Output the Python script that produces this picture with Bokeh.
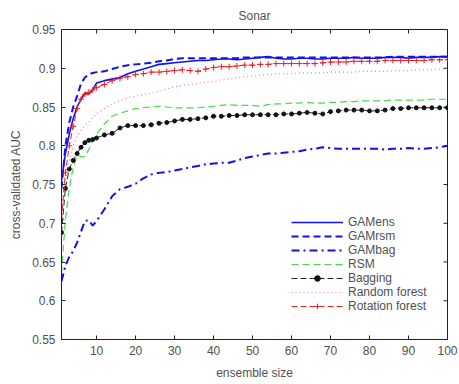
import math
from bokeh.plotting import figure
from bokeh.embed import file_html
from bokeh.resources import INLINE
from bokeh.models import FixedTicker, CustomJSTickFormatter, Legend

# ---------------- data ----------------
ensemble_size = list(range(1, 11)) + list(range(12, 101, 2))

gamens = [0.755, 0.790, 0.815, 0.835, 0.850, 0.860, 0.868, 0.867, 0.872, 0.881,
          0.884, 0.886, 0.888, 0.893, 0.896,
          0.899, 0.902, 0.905, 0.906, 0.907,
          0.908, 0.909, 0.910, 0.910, 0.911,
          0.912, 0.912, 0.911, 0.912, 0.913,
          0.914, 0.915, 0.913, 0.912, 0.912,
          0.913, 0.913, 0.912, 0.912, 0.913,
          0.913, 0.913, 0.914, 0.913, 0.913,
          0.913, 0.914, 0.914, 0.914, 0.913,
          0.914, 0.914, 0.914, 0.915, 0.915]

gamrsm = [0.745, 0.800, 0.830, 0.850, 0.864, 0.880, 0.888, 0.892, 0.894, 0.895,
          0.896, 0.899, 0.902, 0.904, 0.905,
          0.906, 0.907, 0.909, 0.910, 0.912,
          0.913, 0.913, 0.913, 0.913, 0.913,
          0.913, 0.913, 0.913, 0.914, 0.914,
          0.914, 0.914, 0.914, 0.914, 0.914,
          0.914, 0.914, 0.914, 0.914, 0.914,
          0.914, 0.914, 0.914, 0.914, 0.914,
          0.914, 0.914, 0.915, 0.915, 0.915,
          0.915, 0.915, 0.915, 0.915, 0.915]

gambag = [0.625, 0.645, 0.657, 0.664, 0.675, 0.689, 0.703, 0.704, 0.697, 0.703,
          0.718, 0.735, 0.744, 0.747, 0.751,
          0.758, 0.763, 0.765, 0.766, 0.768,
          0.770, 0.772, 0.774, 0.776, 0.777,
          0.778, 0.778, 0.781, 0.784, 0.786,
          0.788, 0.790, 0.790, 0.791, 0.792,
          0.793, 0.795, 0.796, 0.798, 0.797,
          0.796, 0.796, 0.796, 0.796, 0.796,
          0.796, 0.795, 0.796, 0.796, 0.797,
          0.796, 0.796, 0.797, 0.798, 0.800]

rsm = [0.635, 0.705, 0.745, 0.772, 0.788, 0.786, 0.786, 0.795, 0.806, 0.815,
       0.828, 0.838, 0.842, 0.845, 0.848,
       0.849, 0.850, 0.851, 0.850, 0.849,
       0.849, 0.849, 0.849, 0.850, 0.851,
       0.852, 0.853, 0.852, 0.852, 0.852,
       0.851, 0.853, 0.854, 0.854, 0.855,
       0.855, 0.856, 0.855, 0.855, 0.856,
       0.856, 0.857, 0.857, 0.858, 0.858,
       0.858, 0.858, 0.859, 0.859, 0.859,
       0.859, 0.859, 0.860, 0.860, 0.860]

bagging = [0.688, 0.745, 0.770, 0.781, 0.790, 0.798, 0.804, 0.807, 0.808, 0.810,
           0.814, 0.816, 0.823, 0.826, 0.826,
           0.826, 0.827, 0.829, 0.830, 0.832,
           0.834, 0.834, 0.835, 0.836, 0.838,
           0.838, 0.839, 0.839, 0.840, 0.840,
           0.840, 0.840, 0.840, 0.841, 0.841,
           0.842, 0.843, 0.842, 0.841, 0.844,
           0.845, 0.846, 0.846, 0.846, 0.845,
           0.845, 0.846, 0.848, 0.848, 0.849,
           0.849, 0.849, 0.849, 0.849, 0.849]

random_forest = [0.720, 0.755, 0.780, 0.800, 0.812, 0.820, 0.826, 0.831, 0.836, 0.841,
                 0.848, 0.854, 0.858, 0.862, 0.864,
                 0.866, 0.868, 0.870, 0.873, 0.876,
                 0.878, 0.879, 0.880, 0.882, 0.883,
                 0.885, 0.886, 0.888, 0.889, 0.890,
                 0.891, 0.892, 0.893, 0.893, 0.893,
                 0.894, 0.894, 0.894, 0.894, 0.895,
                 0.895, 0.895, 0.895, 0.896, 0.896,
                 0.896, 0.896, 0.897, 0.897, 0.897,
                 0.898, 0.898, 0.898, 0.899, 0.899]

rotation_forest = [0.705, 0.765, 0.800, 0.825, 0.848, 0.860, 0.866, 0.869, 0.872, 0.875,
                   0.879, 0.884, 0.887, 0.889, 0.892,
                   0.893, 0.895, 0.895, 0.896, 0.897,
                   0.898, 0.897, 0.896, 0.899, 0.901,
                   0.902, 0.902, 0.903, 0.904, 0.904,
                   0.905, 0.905, 0.906, 0.906, 0.906,
                   0.906, 0.906, 0.906, 0.907, 0.908,
                   0.908, 0.908, 0.909, 0.909, 0.909,
                   0.909, 0.910, 0.910, 0.910, 0.910,
                   0.910, 0.910, 0.911, 0.911, 0.911]

x_ticks = [10, 20, 30, 40, 50, 60, 70, 80, 90, 100]
y_ticks = [0.55, 0.60, 0.65, 0.70, 0.75, 0.80, 0.85, 0.90, 0.95]
x_lim = (1, 100)
y_lim = (0.55, 0.95)

# ---------------- figure ----------------
FONT = "Liberation Sans"
TXT = "#505050"
AX = "#222222"

p = figure(width=459, height=384, x_range=x_lim, y_range=y_lim,
           output_backend="svg", toolbar_location=None,
           min_border_left=61, min_border_right=12, min_border_top=29,
           min_border_bottom=45, title="Sonar")
p.title.align = "center"
p.title.text_font = FONT
p.title.text_font_size = "12px"
p.title.text_font_style = "normal"
p.title.text_color = TXT
p.title.standoff = 13
p.xgrid.visible = False
p.ygrid.visible = False
p.outline_line_color = AX
p.outline_line_width = 1

fmt = CustomJSTickFormatter(code="return tick.toFixed(2).replace(/0$/, '');")

for ax in (p.xaxis[0], p.yaxis[0]):
    ax.major_tick_in = 4
    ax.major_tick_out = 0
    ax.minor_tick_in = 0
    ax.minor_tick_out = 0
    ax.axis_line_color = AX
    ax.major_tick_line_color = AX
    ax.major_label_text_font = FONT
    ax.major_label_text_font_size = "12px"
    ax.major_label_text_color = TXT
    ax.axis_label_text_font = FONT
    ax.axis_label_text_font_size = "12px"
    ax.axis_label_text_font_style = "normal"
    ax.axis_label_text_color = TXT
    ax.major_label_standoff = 6

p.xaxis.ticker = FixedTicker(ticks=x_ticks)
p.yaxis.ticker = FixedTicker(ticks=y_ticks)
p.yaxis.formatter = fmt
p.xaxis.axis_label = "ensemble size"
p.yaxis.axis_label = "cross-validated AUC"
p.xaxis.axis_label_standoff = 8
p.yaxis.axis_label_standoff = 6

# mirrored inward ticks on top and right frame edges
p.ray(x=x_ticks, y=[y_lim[1]] * len(x_ticks), length=4, length_units="screen",
      angle=-math.pi / 2, line_color=AX, line_width=1)
p.ray(x=[x_lim[1]] * len(y_ticks), y=y_ticks, length=4, length_units="screen",
      angle=math.pi, line_color=AX, line_width=1)

BLUE = "#1010f0"
r1 = p.line(ensemble_size, gamens, line_color=BLUE, line_width=1.6)
r2 = p.line(ensemble_size, gamrsm, line_color=BLUE, line_width=2, line_dash="7 4")
r3 = p.line(ensemble_size, gambag, line_color=BLUE, line_width=2, line_dash="8 4 2 4")
r4 = p.line(ensemble_size, rsm, line_color="#44dd44", line_width=1.2, line_dash="7 4")
r5 = p.line(ensemble_size, bagging, line_color="#222222", line_width=1, line_dash="6 3")
r5m = p.scatter(ensemble_size, bagging, marker="circle", size=4, fill_color="#111111",
                line_color="#111111")
r6 = p.line(ensemble_size, random_forest, line_color="#ff70d0", line_width=1.2, line_dash="1 3")
r7 = p.line(ensemble_size, rotation_forest, line_color="#ee2222", line_width=1, line_dash="6 3")
r7m = p.scatter(ensemble_size, rotation_forest, marker="cross", size=6, line_color="#ee2222",
                line_width=1)

legend = Legend(items=[("GAMens", [r1]), ("GAMrsm", [r2]), ("GAMbag", [r3]),
                       ("RSM", [r4]), ("Bagging", [r5, r5m]),
                       ("Random forest", [r6]), ("Rotation forest", [r7, r7m])],
                location=(230, 26))
legend.label_text_font = FONT
legend.label_text_font_size = "12px"
legend.label_text_color = TXT
legend.glyph_width = 52
legend.glyph_height = 14
legend.label_height = 14
legend.spacing = 0
legend.padding = 3
legend.margin = 0
legend.label_standoff = 5
legend.border_line_color = None
legend.background_fill_alpha = 0
p.add_layout(legend, "center")

open("out.html", "w").write(file_html(p, INLINE))
